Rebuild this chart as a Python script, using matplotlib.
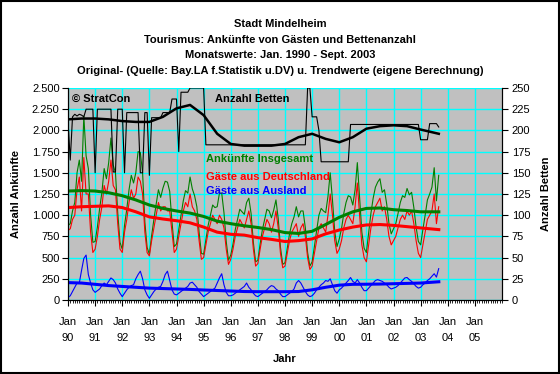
import matplotlib
matplotlib.use('Agg')
import matplotlib.pyplot as plt
import numpy as np
from matplotlib.ticker import MultipleLocator, FuncFormatter
from matplotlib.patches import Rectangle

plt.rcParams['font.family'] = ['Liberation Sans', 'DejaVu Sans']

# Monatswerte Jan. 1990 - Sept. 2003
gesamt = [
    880, 900, 1050, 1150, 1500, 1650, 1400, 2170, 1700, 1550, 1000, 680,   # 1990
    690, 860, 1080, 1270, 1550, 1430, 1620, 1910, 1590, 1500, 1030, 680,   # 1991
    600, 880, 1070, 1300, 1470, 1380, 1500, 1750, 1740, 1500, 920, 620,    # 1992
    540, 760, 950, 1130, 1300, 1210, 1320, 1400, 1390, 1280, 920, 630,     # 1993
    660, 830, 1000, 1170, 1290, 1260, 1450, 1310, 1230, 1100, 800, 550,    # 1994
    540, 710, 880, 1000, 1120, 1090, 1100, 1260, 1260, 1030, 690, 470,     # 1995
    530, 660, 830, 950, 1070, 1040, 1010, 1150, 1200, 1020, 680, 450,      # 1996
    470, 660, 830, 950, 1070, 1050, 970, 1060, 1180, 960, 620, 420,        # 1997
    440, 610, 780, 900, 980, 1100, 980, 1050, 1050, 850, 560, 400,         # 1998
    450, 630, 820, 1000, 1080, 1050, 1030, 1220, 1500, 1180, 810, 630,     # 1999
    720, 840, 1020, 1150, 1230, 1215, 1120, 1300, 1620, 1200, 800, 610,    # 2000
    560, 790, 1020, 1200, 1330, 1390, 1430, 1270, 1300, 1130, 900, 780,    # 2001
    840, 900, 1020, 1150, 1230, 1210, 1315, 1240, 1270, 1090, 860, 690,    # 2002
    650, 830, 1000, 1180, 1250, 1330, 1560, 1170, 1470,                    # 2003
]
deutschland = [
    820, 840, 950, 1000, 1300, 1450, 1050, 1680, 1250, 1250, 800, 560,
    600, 750, 950, 1100, 1350, 1250, 1400, 1650, 1350, 1300, 900, 600,
    560, 800, 950, 1150, 1300, 1200, 1250, 1450, 1400, 1250, 800, 560,
    520, 700, 850, 1000, 1150, 1050, 1100, 1100, 1050, 1050, 800, 560,
    600, 750, 900, 1050, 1150, 1100, 1250, 1100, 1050, 950, 700, 480,
    500, 650, 800, 900, 1000, 950, 900, 1000, 950, 850, 600, 420,
    480, 600, 750, 850, 950, 900, 850, 950, 1050, 900, 600, 400,
    430, 600, 750, 850, 950, 900, 800, 900, 1050, 850, 550, 380,
    400, 550, 700, 800, 850, 900, 750, 850, 900, 750, 500, 360,
    400, 550, 700, 850, 900, 850, 800, 1000, 1250, 1000, 700, 550,
    600, 700, 850, 950, 1000, 950, 900, 1100, 1380, 1000, 650, 500,
    450, 650, 850, 1000, 1100, 1150, 1200, 1050, 1100, 950, 750, 650,
    700, 750, 850, 950, 1000, 950, 1050, 1000, 1050, 900, 700, 550,
    500, 650, 800, 950, 1000, 1050, 1250, 900, 1100,
]
ausland = [
    30, 50, 100, 150, 200, 200, 350, 490, 530, 300, 200, 120,
    90, 110, 130, 170, 200, 180, 220, 260, 240, 200, 130, 80,
    40, 80, 120, 150, 170, 180, 250, 300, 340, 250, 120, 60,
    20, 60, 100, 130, 150, 160, 220, 300, 340, 230, 120, 70,
    60, 80, 100, 120, 140, 160, 200, 210, 180, 150, 100, 70,
    40, 60, 80, 100, 120, 140, 200, 260, 310, 180, 90, 50,
    50, 60, 80, 100, 120, 140, 160, 200, 150, 120, 80, 50,
    40, 60, 80, 100, 120, 150, 170, 160, 130, 110, 70, 40,
    40, 60, 80, 100, 130, 200, 230, 200, 150, 100, 60, 40,
    50, 80, 120, 150, 180, 200, 230, 220, 250, 180, 110, 80,
    120, 140, 170, 200, 230, 265, 220, 200, 240, 200, 150, 110,
    110, 140, 170, 200, 230, 240, 230, 220, 200, 180, 150, 130,
    140, 150, 170, 200, 230, 260, 265, 240, 220, 190, 160, 140,
    150, 180, 200, 230, 250, 280, 310, 270, 370,
]
betten = [
    211, 165, 216, 219, 217, 219, 218, 216, 225, 225, 225, 225,
    150, 225, 225, 225, 225, 225, 225, 225, 151, 151, 225, 225,
    225, 150, 221, 221, 221, 221, 221, 221, 150, 150, 221, 221,
    147, 215, 215, 215, 215, 215, 221, 221, 221, 221, 237, 237,
    237, 175, 245, 245, 245, 245, 250, 250, 250, 250, 250, 250,
    250, 183, 183, 183, 183, 183, 183, 183, 183, 183, 183, 183,
    183, 183, 183, 183, 183, 183, 183, 183, 183, 183, 183, 183,
    183, 183, 183, 183, 183, 183, 183, 183, 183, 183, 183, 183,
    183, 183, 183, 183, 183, 183, 183, 183, 183, 183, 250, 250,
    216, 216, 216, 200, 163, 163, 163, 163, 163, 163, 163, 163,
    163, 163, 163, 163, 163, 207, 207, 207, 207, 207, 207, 207,
    207, 207, 207, 207, 207, 207, 207, 207, 207, 207, 207, 207,
    207, 207, 207, 207, 207, 207, 207, 207, 207, 207, 207, 207,
    189, 189, 189, 189, 208, 208, 208, 208, 204,
]

# Trendwerte (halbjaehrlich)
trend_x = [1990.0, 1990.5, 1991.0, 1991.5, 1992.0, 1992.5, 1993.0, 1993.5,
           1994.0, 1994.5, 1995.0, 1995.5, 1996.0, 1996.5, 1997.0, 1997.5,
           1998.0, 1998.5, 1999.0, 1999.5, 2000.0, 2000.5, 2001.0, 2001.5,
           2002.0, 2002.5, 2003.0, 2003.67]
trend_gesamt = [1285, 1290, 1285, 1265, 1230, 1180, 1120, 1080, 1050, 1025,
                985, 930, 900, 875, 855, 830, 795, 785, 810, 890, 975, 1040,
                1080, 1085, 1065, 1055, 1040, 1040]
trend_deutschland = [1090, 1100, 1105, 1110, 1090, 1040, 980, 955, 935, 910,
                     860, 800, 775, 765, 735, 715, 690, 700, 720, 780, 825,
                     860, 885, 890, 880, 865, 850, 830]
trend_ausland = [205, 200, 185, 170, 160, 150, 140, 135, 130, 125, 118, 112,
                 106, 100, 98, 98, 98, 100, 120, 150, 175, 185, 186, 188, 192,
                 196, 200, 215]
trend_betten = [213, 214, 214, 213, 211, 210, 210, 216, 226, 230, 218, 196,
                184, 182, 182, 182, 184, 192, 196, 190, 186, 192, 202, 205,
                206, 205, 201, 196]

jahre = list(range(1990, 2006))
tick_labels = ['Jan\n%02d' % (j % 100) for j in jahre]

x = 1990 + np.arange(len(gesamt)) / 12.0

fig = plt.figure(figsize=(5.6, 3.74), dpi=100)
ax = fig.add_axes([68 / 560, 1 - 300 / 374, 434 / 560, 212 / 374])
ax.set_facecolor('#C0C0C0')

ax.plot(x, gesamt, color='#008000', lw=0.8, zorder=3)
ax.plot(x, deutschland, color='#FF0000', lw=0.8, zorder=3)
ax.plot(x, ausland, color='#0000FF', lw=0.8, zorder=3)
ax.plot(trend_x, trend_gesamt, color='#008000', lw=2.2, zorder=4)
ax.plot(trend_x, trend_deutschland, color='#FF0000', lw=2.2, zorder=4)
ax.plot(trend_x, trend_ausland, color='#0000FF', lw=2.2, zorder=4)

ax.set_xlim(1990, 2006)
ax.set_ylim(0, 2500)
ax.yaxis.set_major_locator(MultipleLocator(250))
ax.yaxis.set_major_formatter(FuncFormatter(lambda v, p: f'{int(v):,}'.replace(',', '.')))
ax.set_xticks(jahre)
ax.set_xticklabels(tick_labels, fontsize=8, linespacing=1.8)
ax.xaxis.set_minor_locator(MultipleLocator(1 / 12))
ax.tick_params(axis='x', which='major', length=4, pad=8)
ax.tick_params(axis='x', which='minor', length=2)
ax.tick_params(axis='y', length=4, labelsize=8, pad=2)
ax.grid(True, which='major', color='#00FFFF', lw=1.0)
ax.set_axisbelow(True)
for s in ['left', 'bottom', 'right']:
    ax.spines[s].set_color('black')
ax.spines['top'].set_visible(False)

ax.set_xlabel('Jahr', fontsize=8, fontweight='bold', labelpad=8)
ax.set_ylabel('Anzahl Ankünfte', fontsize=8, fontweight='bold', labelpad=8)

ax2 = ax.twinx()
ax2.plot(x, betten, color='black', lw=0.8, zorder=3)
ax2.plot(trend_x, trend_betten, color='black', lw=1.8, zorder=4)
ax2.set_ylim(0, 250)
ax2.yaxis.set_major_locator(MultipleLocator(25))
ax2.tick_params(axis='y', length=4, labelsize=8, pad=3)
ax2.spines['top'].set_visible(False)
ax2.set_ylabel('Anzahl Betten', fontsize=8, fontweight='bold', labelpad=8)

# Titel
titel = ['Stadt Mindelheim',
         'Tourismus: Ankünfte von Gästen und Bettenanzahl',
         'Monatswerte: Jan. 1990 - Sept. 2003',
         'Original- (Quelle: Bay.LA f.Statistik u.DV) u. Trendwerte (eigene Berechnung)']
for i, t in enumerate(titel):
    fig.text(0.5, 1 - (24 + i * 15.7) / 374, t, ha='center', va='center',
             fontsize=8, fontweight='bold')

# Beschriftungen im Diagramm
def label(px, py, s, c):
    fig.text(px / 560, 1 - py / 374, s, color=c, ha='left', va='center',
             fontsize=8, fontweight='bold', zorder=10)

label(72, 99, '© StratCon', 'black')
label(215, 99, 'Anzahl Betten', 'black')
label(206, 159, 'Ankünfte Insgesamt', '#008000')
label(206, 177, 'Gäste aus Deutschland', '#FF0000')
label(206, 191, 'Gäste aus Ausland', '#0000FF')

fig.patches.append(Rectangle((0.002, 0.003), 0.996, 0.994, transform=fig.transFigure,
                             fill=False, edgecolor='black', lw=1.5))

fig.savefig('out.png', dpi=100)
